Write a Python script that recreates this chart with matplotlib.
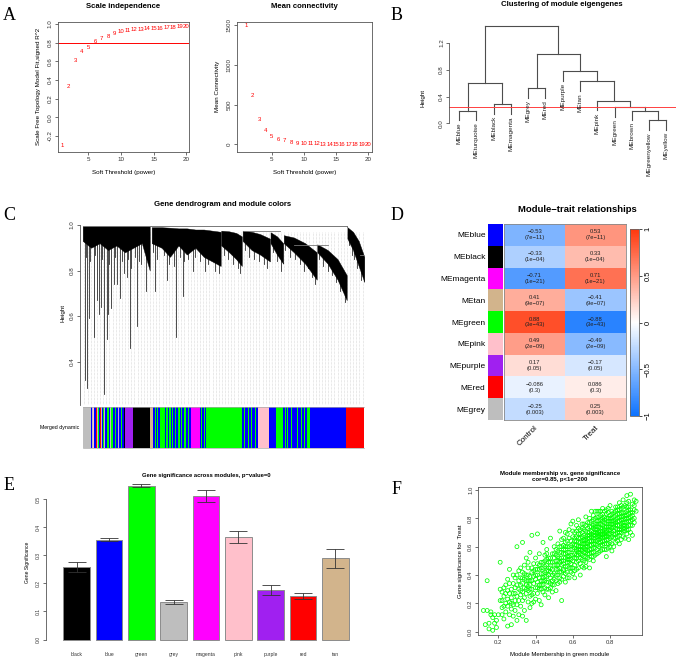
import numpy as np
import matplotlib
matplotlib.use("Agg")
import matplotlib.pyplot as plt
from matplotlib.colors import LinearSegmentedColormap

plt.rcParams['font.family'] = ['Liberation Sans', 'DejaVu Sans']

W, H = 676, 658

# ---------------- data ----------------
# A: soft threshold
powers = list(range(1, 21))
sft_r2 = [-0.30, 0.33, 0.61, 0.70, 0.75, 0.81, 0.84, 0.87, 0.90, 0.92,
          0.935, 0.94, 0.945, 0.95, 0.955, 0.955, 0.965, 0.965, 0.97, 0.975]
mean_k = [1487, 616, 306, 168, 100, 63, 42, 25, 13, 8,
          5, 4, 3, 2, 2, 1, 1, 1, 1, 1]

# B: eigengene clustering (R hclust style merge table)
me_leaves = ["MEblue", "MEturquoise", "MEblack", "MEmagenta", "MEgrey", "MEred",
             "MEpurple", "MEtan", "MEpink", "MEgreen", "MEbrown",
             "MEgreenyellow", "MEyellow"]
me_merge = [(-12, -13), (-11, 1), (-1, -2), (-10, 2), (-3, -4), (-9, 4),
            (-5, -6), (3, 5), (-8, 6), (-7, 9), (7, 10), (8, 11)]
me_height = [0.045, 0.19, 0.19, 0.239, 0.284, 0.339, 0.523, 0.60, 0.628,
             0.778, 1.037, 1.46]
merge_cut = 0.25

# C: gene dendrogram (leaf order fraction u, heights)
clu_u = [[0.000, 0.030, 0.060, 0.090, 0.120, 0.150, 0.180, 0.210, 0.238],
         [0.245, 0.280, 0.310, 0.340, 0.370, 0.400, 0.430, 0.460, 0.490],
         [0.492, 0.520, 0.545, 0.565],
         [0.568, 0.600, 0.630, 0.665],
         [0.667, 0.690, 0.712],
         [0.714, 0.750, 0.790, 0.831],
         [0.833, 0.870, 0.905, 0.9375],
         [0.940, 0.960, 0.980, 1.000]]
clu_top = [[0.995] * 9,
           [0.99, 0.99, 0.988, 0.985, 0.985, 0.98, 0.98, 0.975, 0.97],
           [0.975, 0.972, 0.965, 0.95],
           [0.975, 0.97, 0.96, 0.94],
           [0.968, 0.95, 0.92],
           [0.955, 0.945, 0.92, 0.88],
           [0.915, 0.89, 0.85, 0.78],
           [0.99, 0.97, 0.93, 0.86]]
clu_bot = [[0.93, 0.90, 0.92, 0.89, 0.91, 0.88, 0.90, 0.92, 0.80],
           [0.92, 0.90, 0.86, 0.91, 0.87, 0.90, 0.86, 0.84, 0.82],
           [0.91, 0.88, 0.85, 0.82],
           [0.93, 0.89, 0.87, 0.84],
           [0.92, 0.87, 0.83],
           [0.92, 0.88, 0.83, 0.76],
           [0.88, 0.83, 0.76, 0.67],
           [0.94, 0.89, 0.82, 0.75]]
drop_u = [0.007, 0.015, 0.022, 0.039, 0.051, 0.058, 0.066, 0.076, 0.085, 0.090,
          0.102, 0.110, 0.122, 0.131, 0.146, 0.157, 0.167, 0.173, 0.194, 0.206,
          0.224, 0.258, 0.300, 0.332, 0.356, 0.392, 0.435,
          0.012, 0.027, 0.045, 0.070, 0.095, 0.115, 0.138, 0.160, 0.185, 0.200,
          0.250, 0.265, 0.290, 0.305, 0.325, 0.345, 0.360, 0.375, 0.400, 0.415,
          0.445, 0.470, 0.485, 0.500, 0.515, 0.535, 0.550, 0.560, 0.575, 0.590,
          0.610, 0.625, 0.645, 0.655, 0.675, 0.690, 0.705, 0.720, 0.735, 0.755,
          0.770, 0.785, 0.800, 0.815, 0.825, 0.840, 0.855, 0.870, 0.885, 0.900,
          0.915, 0.930, 0.945, 0.955, 0.965, 0.975, 0.990]
drop_h = [0.32, 0.285, 0.59, 0.51, 0.67, 0.61, 0.64, 0.26, 0.50, 0.61,
          0.635, 0.74, 0.74, 0.68, 0.79, 0.77, 0.46, 0.81, 0.555, 0.83,
          0.71, 0.71, 0.76, 0.51, 0.69, 0.80, 0.80,
          0.86, 0.84, 0.87, 0.85, 0.83, 0.86, 0.84, 0.85, 0.86, 0.84,
          0.88, 0.85, 0.87, 0.83, 0.82, 0.86, 0.84, 0.85, 0.86, 0.84,
          0.83, 0.80, 0.79, 0.87, 0.85, 0.83, 0.81, 0.79, 0.89, 0.86,
          0.85, 0.84, 0.83, 0.81, 0.88, 0.84, 0.80, 0.89, 0.86, 0.85,
          0.83, 0.80, 0.81, 0.77, 0.74, 0.85, 0.82, 0.80, 0.78, 0.75,
          0.71, 0.66, 0.91, 0.87, 0.85, 0.81, 0.76]
strip_colors = ["grey",
                "blue", "grey", "pink", "blue", "red", "grey", "green", "blue", "red", "grey",
                "blue", "green", "grey", "blue", "green", "blue", "grey", "green", "blue",
                "green", "blue", "grey", "blue", "green", "blue",
                "black", "purple", "black", "tan",
                "blue", "green", "blue", "green", "blue", "green",
                "blue", "green", "blue", "green", "blue", "green", "blue", "green", "blue",
                "green", "blue", "green", "blue", "green", "blue", "green", "blue",
                "magenta",
                "blue", "green", "blue", "green", "blue", "green",
                "blue", "green", "blue", "green", "blue", "green", "blue", "green", "blue",
                "pink", "blue", "green",
                "blue", "green", "blue", "green", "blue", "green", "blue", "green", "blue",
                "green", "blue", "green", "blue", "green", "blue",
                "green", "blue", "red"]
strip_widths = [25,
                4, 3, 3, 4, 3, 3, 3, 5, 2, 3,
                4, 3, 3, 6, 4, 5, 3, 3, 8,
                3, 6, 3, 5, 3, 5,
                4, 24, 50, 9,
                6, 3, 4, 3, 6, 14,
                5, 4, 3, 6, 5, 3, 4, 5, 6,
                4, 5, 3, 6, 5, 4, 3, 7,
                27,
                4, 3, 5, 2, 4, 107,
                6, 3, 10, 3, 5, 4, 8, 3, 6,
                34, 19, 21,
                6, 3, 5, 2, 8, 3, 6, 2, 7,
                3, 9, 3, 6, 3, 7,
                9, 108, 54]

# D: module-trait
mt_modules = ["MEblue", "MEblack", "MEmagenta", "MEtan", "MEgreen", "MEpink",
              "MEpurple", "MEred", "MEgrey"]
mt_colors = ["#0000FF", "#000000", "#FF00FF", "#D2B48C", "#00FF00", "#FFC0CB",
             "#A020F0", "#FF0000", "#BEBEBE"]
traits = ["Control", "Treat"]
cor_control = [-0.53, -0.33, -0.71, 0.41, 0.88, 0.49, 0.17, -0.086, -0.25]
cor_treat = [0.53, 0.33, 0.71, -0.41, -0.88, -0.49, -0.17, 0.086, 0.25]
pvals = ["7e-11", "1e-04", "1e-21", "9e-07", "3e-43", "2e-09", "0.05", "0.3", "0.003"]

# E: gene significance across modules
gs_modules = ["black", "blue", "green", "grey", "magenta", "pink", "purple", "red", "tan"]
gs_bar_colors = ["#000000", "#0000FF", "#00FF00", "#BEBEBE", "#FF00FF", "#FFC0CB",
                 "#A020F0", "#FF0000", "#D2B48C"]
gs_mean = [0.258, 0.356, 0.548, 0.133, 0.511, 0.366, 0.177, 0.154, 0.290]
gs_se = [0.018, 0.006, 0.004, 0.007, 0.022, 0.022, 0.017, 0.010, 0.034]

# F: module membership vs gene significance (green module)
gene_points = [
    (0.12, 0.15), (0.13, 0.05), (0.14, 0.36), (0.14, 0.15), (0.15, 0.06), (0.15, 0.02),
    (0.16, 0.12), (0.17, 0.10), (0.17, 0.01), (0.18, 0.06), (0.18, 0.12), (0.19, 0.08),
    (0.19, 0.03), (0.20, 0.12), (0.16, 0.14),
    (0.21, 0.49), (0.21, 0.22), (0.22, 0.12), (0.22, 0.28), (0.22, 0.17), (0.23, 0.25),
    (0.23, 0.09), (0.23, 0.31), (0.24, 0.20), (0.24, 0.14), (0.24, 0.33), (0.25, 0.04),
    (0.25, 0.23), (0.25, 0.18), (0.25, 0.37), (0.26, 0.44), (0.26, 0.27), (0.26, 0.12),
    (0.26, 0.21), (0.27, 0.05), (0.27, 0.30), (0.27, 0.16), (0.27, 0.24), (0.28, 0.34),
    (0.28, 0.19), (0.28, 0.11), (0.28, 0.27), (0.29, 0.22), (0.29, 0.38), (0.29, 0.15),
    (0.29, 0.31), (0.30, 0.60), (0.30, 0.25), (0.30, 0.08), (0.30, 0.33), (0.30, 0.19),
    (0.24, 0.27), (0.26, 0.34), (0.28, 0.40), (0.23, 0.18), (0.27, 0.20), (0.29, 0.27),
    (0.21, 0.30), (0.25, 0.29), (0.22, 0.22),
    (0.31, 0.36), (0.31, 0.22), (0.31, 0.43), (0.31, 0.12), (0.32, 0.29), (0.32, 0.38),
    (0.32, 0.18), (0.32, 0.26), (0.33, 0.42), (0.33, 0.11), (0.33, 0.34), (0.33, 0.63),
    (0.33, 0.22), (0.34, 0.31), (0.34, 0.47), (0.34, 0.15), (0.34, 0.37), (0.35, 0.27),
    (0.35, 0.08), (0.35, 0.40), (0.35, 0.52), (0.35, 0.33), (0.36, 0.21), (0.36, 0.36),
    (0.36, 0.45), (0.36, 0.29), (0.37, 0.39), (0.37, 0.17), (0.37, 0.33), (0.37, 0.56),
    (0.37, 0.25), (0.38, 0.42), (0.38, 0.30), (0.38, 0.68), (0.38, 0.36), (0.38, 0.20),
    (0.39, 0.48), (0.39, 0.27), (0.39, 0.34), (0.39, 0.39), (0.40, 0.31), (0.40, 0.44),
    (0.40, 0.23), (0.40, 0.52), (0.40, 0.37), (0.32, 0.33), (0.34, 0.24), (0.36, 0.32),
    (0.38, 0.26), (0.33, 0.28), (0.35, 0.36), (0.37, 0.30), (0.39, 0.21), (0.31, 0.30),
    (0.36, 0.40),
    (0.41, 0.35), (0.41, 0.48), (0.41, 0.27), (0.41, 0.40), (0.41, 0.69), (0.42, 0.33),
    (0.42, 0.44), (0.42, 0.22), (0.42, 0.38), (0.42, 0.55), (0.43, 0.30), (0.43, 0.41),
    (0.43, 0.49), (0.43, 0.36), (0.43, 0.19), (0.44, 0.45), (0.44, 0.28), (0.44, 0.38),
    (0.44, 0.63), (0.44, 0.33), (0.45, 0.42), (0.45, 0.50), (0.45, 0.26), (0.45, 0.36),
    (0.45, 0.31), (0.46, 0.47), (0.46, 0.39), (0.46, 0.58), (0.46, 0.30), (0.46, 0.43),
    (0.47, 0.35), (0.47, 0.52), (0.47, 0.40), (0.47, 0.24), (0.47, 0.45), (0.48, 0.38),
    (0.48, 0.66), (0.48, 0.49), (0.48, 0.31), (0.48, 0.42), (0.49, 0.55), (0.49, 0.36),
    (0.49, 0.44), (0.49, 0.28), (0.49, 0.40), (0.50, 0.47), (0.50, 0.33), (0.50, 0.60),
    (0.50, 0.41), (0.50, 0.37), (0.42, 0.30), (0.44, 0.41), (0.46, 0.35), (0.48, 0.45),
    (0.43, 0.45), (0.45, 0.46), (0.47, 0.30), (0.49, 0.49), (0.41, 0.31), (0.44, 0.36),
    (0.46, 0.51), (0.48, 0.34), (0.50, 0.52), (0.45, 0.39), (0.47, 0.43),
    (0.51, 0.44), (0.51, 0.58), (0.51, 0.36), (0.51, 0.50), (0.51, 0.29), (0.52, 0.47),
    (0.52, 0.62), (0.52, 0.40), (0.52, 0.53), (0.52, 0.34), (0.53, 0.45), (0.53, 0.56),
    (0.53, 0.38), (0.53, 0.71), (0.53, 0.49), (0.54, 0.42), (0.54, 0.52), (0.54, 0.60),
    (0.54, 0.22), (0.54, 0.47), (0.55, 0.55), (0.55, 0.39), (0.55, 0.50), (0.55, 0.66),
    (0.55, 0.44), (0.56, 0.58), (0.56, 0.46), (0.56, 0.35), (0.56, 0.52), (0.56, 0.63),
    (0.57, 0.49), (0.57, 0.56), (0.57, 0.42), (0.57, 0.69), (0.57, 0.53), (0.58, 0.45),
    (0.58, 0.60), (0.58, 0.51), (0.58, 0.38), (0.58, 0.56), (0.59, 0.64), (0.59, 0.48),
    (0.59, 0.54), (0.59, 0.42), (0.59, 0.76), (0.60, 0.58), (0.60, 0.50), (0.60, 0.62),
    (0.60, 0.45), (0.60, 0.54), (0.52, 0.57), (0.54, 0.37), (0.56, 0.41), (0.58, 0.66),
    (0.53, 0.52), (0.55, 0.48), (0.57, 0.60), (0.59, 0.58), (0.51, 0.54), (0.53, 0.42),
    (0.55, 0.61), (0.57, 0.46), (0.59, 0.51), (0.52, 0.50), (0.54, 0.56), (0.56, 0.55),
    (0.58, 0.49), (0.60, 0.67), (0.51, 0.40), (0.55, 0.43), (0.57, 0.38), (0.60, 0.41),
    (0.54, 0.65), (0.56, 0.70), (0.58, 0.72), (0.60, 0.78),
    (0.61, 0.55), (0.61, 0.64), (0.61, 0.47), (0.61, 0.59), (0.61, 0.70), (0.62, 0.52),
    (0.62, 0.61), (0.62, 0.44), (0.62, 0.57), (0.62, 0.67), (0.63, 0.63), (0.63, 0.50),
    (0.63, 0.58), (0.63, 0.73), (0.63, 0.54), (0.64, 0.60), (0.64, 0.48), (0.64, 0.66),
    (0.64, 0.55), (0.64, 0.40), (0.65, 0.62), (0.65, 0.57), (0.65, 0.70), (0.65, 0.51),
    (0.65, 0.64), (0.66, 0.59), (0.66, 0.68), (0.66, 0.53), (0.66, 0.76), (0.66, 0.62),
    (0.67, 0.56), (0.67, 0.65), (0.67, 0.49), (0.67, 0.60), (0.67, 0.81), (0.68, 0.63),
    (0.68, 0.57), (0.68, 0.70), (0.68, 0.52), (0.68, 0.66), (0.69, 0.61), (0.69, 0.74),
    (0.69, 0.55), (0.69, 0.68), (0.69, 0.45), (0.70, 0.64), (0.70, 0.58), (0.70, 0.71),
    (0.70, 0.53), (0.70, 0.85), (0.61, 0.52), (0.62, 0.49), (0.63, 0.66), (0.64, 0.63),
    (0.65, 0.54), (0.66, 0.56), (0.67, 0.71), (0.68, 0.60), (0.69, 0.58), (0.70, 0.67),
    (0.61, 0.61), (0.62, 0.71), (0.63, 0.45), (0.64, 0.58), (0.65, 0.67), (0.66, 0.50),
    (0.67, 0.62), (0.68, 0.77), (0.69, 0.64), (0.70, 0.61), (0.62, 0.64), (0.64, 0.52),
    (0.66, 0.65), (0.68, 0.55), (0.70, 0.74), (0.63, 0.60), (0.65, 0.60), (0.67, 0.67),
    (0.69, 0.51), (0.61, 0.38), (0.63, 0.79), (0.65, 0.46), (0.67, 0.53), (0.69, 0.70),
    (0.66, 0.72), (0.64, 0.69), (0.62, 0.58), (0.68, 0.73), (0.70, 0.56), (0.66, 0.45),
    (0.71, 0.62), (0.71, 0.70), (0.71, 0.56), (0.71, 0.75), (0.71, 0.66), (0.72, 0.64),
    (0.72, 0.72), (0.72, 0.59), (0.72, 0.68), (0.72, 0.80), (0.73, 0.67), (0.73, 0.61),
    (0.73, 0.74), (0.73, 0.55), (0.73, 0.70), (0.74, 0.65), (0.74, 0.78), (0.74, 0.60),
    (0.74, 0.71), (0.74, 0.68), (0.75, 0.73), (0.75, 0.63), (0.75, 0.69), (0.75, 0.57),
    (0.75, 0.82), (0.76, 0.66), (0.76, 0.75), (0.76, 0.61), (0.76, 0.71), (0.76, 0.87),
    (0.77, 0.69), (0.77, 0.64), (0.77, 0.77), (0.77, 0.58), (0.77, 0.72), (0.78, 0.67),
    (0.78, 0.74), (0.78, 0.62), (0.78, 0.80), (0.78, 0.70), (0.79, 0.72), (0.79, 0.65),
    (0.79, 0.76), (0.79, 0.59), (0.79, 0.84), (0.80, 0.69), (0.80, 0.74), (0.80, 0.63),
    (0.80, 0.78), (0.80, 0.89), (0.71, 0.59), (0.72, 0.54), (0.73, 0.78), (0.74, 0.63),
    (0.75, 0.66), (0.76, 0.69), (0.77, 0.81), (0.78, 0.65), (0.79, 0.69), (0.80, 0.72),
    (0.71, 0.79), (0.72, 0.66), (0.73, 0.64), (0.74, 0.74), (0.75, 0.76), (0.76, 0.64),
    (0.77, 0.67), (0.78, 0.76), (0.79, 0.80), (0.80, 0.66), (0.71, 0.68), (0.72, 0.76),
    (0.73, 0.69), (0.74, 0.56), (0.75, 0.71), (0.76, 0.78), (0.77, 0.74), (0.78, 0.58),
    (0.79, 0.62), (0.80, 0.82), (0.72, 0.62), (0.74, 0.81), (0.76, 0.73), (0.78, 0.71),
    (0.80, 0.60), (0.73, 0.72), (0.75, 0.61), (0.77, 0.62), (0.79, 0.74), (0.71, 0.50),
    (0.73, 0.85), (0.75, 0.79), (0.77, 0.70), (0.79, 0.67), (0.74, 0.67), (0.76, 0.83),
    (0.78, 0.86), (0.80, 0.76), (0.72, 0.70), (0.76, 0.58), (0.78, 0.53), (0.74, 0.85),
    (0.71, 0.73), (0.73, 0.58),
    (0.81, 0.73), (0.81, 0.67), (0.81, 0.80), (0.81, 0.62), (0.81, 0.76), (0.82, 0.71),
    (0.82, 0.84), (0.82, 0.66), (0.82, 0.78), (0.82, 0.74), (0.83, 0.77), (0.83, 0.69),
    (0.83, 0.82), (0.83, 0.63), (0.83, 0.88), (0.84, 0.75), (0.84, 0.70), (0.84, 0.80),
    (0.84, 0.64), (0.84, 0.86), (0.85, 0.78), (0.85, 0.72), (0.85, 0.83), (0.85, 0.68),
    (0.85, 0.91), (0.86, 0.76), (0.86, 0.81), (0.86, 0.70), (0.86, 0.87), (0.86, 0.74),
    (0.87, 0.79), (0.87, 0.73), (0.87, 0.84), (0.87, 0.67), (0.87, 0.93), (0.88, 0.77),
    (0.88, 0.82), (0.88, 0.71), (0.88, 0.89), (0.88, 0.75), (0.89, 0.80), (0.89, 0.85),
    (0.89, 0.74), (0.89, 0.96), (0.89, 0.69), (0.90, 0.78), (0.90, 0.83), (0.90, 0.72),
    (0.90, 0.88), (0.90, 0.65), (0.91, 0.81), (0.91, 0.75), (0.91, 0.86), (0.91, 0.97),
    (0.92, 0.79), (0.92, 0.84), (0.92, 0.68), (0.92, 0.90), (0.93, 0.86), (0.93, 0.93),
    (0.93, 0.77), (0.94, 0.85), (0.81, 0.70), (0.82, 0.60), (0.83, 0.73), (0.84, 0.78),
    (0.85, 0.75), (0.86, 0.65), (0.87, 0.77), (0.88, 0.80), (0.89, 0.77), (0.90, 0.75),
    (0.81, 0.85), (0.83, 0.79), (0.85, 0.62), (0.87, 0.71), (0.89, 0.91), (0.91, 0.70),
    (0.82, 0.69), (0.84, 0.83), (0.86, 0.79), (0.88, 0.66), (0.90, 0.92), (0.81, 0.57),
    (0.83, 0.66), (0.85, 0.81), (0.87, 0.88), (0.89, 0.82), (0.84, 0.72), (0.86, 0.84),
    (0.56, 0.60), (0.57, 0.64), (0.58, 0.53), (0.59, 0.61), (0.60, 0.71), (0.61, 0.66),
    (0.62, 0.54), (0.62, 0.75), (0.63, 0.69), (0.64, 0.72), (0.65, 0.58), (0.65, 0.76),
    (0.66, 0.64), (0.67, 0.58), (0.67, 0.75), (0.68, 0.68), (0.68, 0.62), (0.69, 0.77),
    (0.69, 0.66), (0.70, 0.69), (0.70, 0.78), (0.71, 0.64), (0.71, 0.82), (0.72, 0.74),
    (0.72, 0.85), (0.73, 0.76), (0.73, 0.81), (0.74, 0.70), (0.74, 0.76), (0.75, 0.67),
    (0.75, 0.85), (0.76, 0.80), (0.76, 0.68), (0.77, 0.79), (0.77, 0.85), (0.78, 0.68),
    (0.78, 0.83), (0.79, 0.78), (0.79, 0.87), (0.80, 0.71), (0.80, 0.80), (0.81, 0.78),
    (0.81, 0.83), (0.82, 0.76), (0.82, 0.81), (0.83, 0.85), (0.83, 0.75), (0.84, 0.88),
    (0.84, 0.67), (0.85, 0.86), (0.85, 0.70), (0.86, 0.72), (0.86, 0.89), (0.87, 0.81),
    (0.87, 0.75), (0.88, 0.84), (0.88, 0.73), (0.89, 0.88), (0.89, 0.72), (0.90, 0.80),
    (0.90, 0.86), (0.91, 0.78), (0.91, 0.84), (0.92, 0.82), (0.92, 0.75), (0.93, 0.80),
    (0.93, 0.89), (0.94, 0.92), (0.48, 0.52), (0.50, 0.55), (0.52, 0.44), (0.53, 0.60),
    (0.54, 0.50), (0.46, 0.55), (0.44, 0.49), (0.42, 0.47), (0.40, 0.40), (0.38, 0.45),
    (0.36, 0.49), (0.34, 0.41), (0.32, 0.45), (0.30, 0.40), (0.33, 0.38), (0.35, 0.30),
    (0.37, 0.36), (0.39, 0.43), (0.41, 0.44), (0.43, 0.33), (0.45, 0.54), (0.47, 0.49),
    (0.49, 0.33), (0.51, 0.47), (0.53, 0.35), (0.55, 0.58), (0.57, 0.51), (0.59, 0.45),
    (0.61, 0.43), (0.63, 0.56), (0.65, 0.73), (0.67, 0.46), (0.69, 0.80), (0.71, 0.53),
]

# ---------------- helpers ----------------
R_COLORS = {"grey": "#BEBEBE", "blue": "#0000FF", "green": "#00FF00", "red": "#FF0000",
            "pink": "#FFC0CB", "purple": "#A020F0", "black": "#000000",
            "tan": "#D2B48C", "magenta": "#FF00FF"}
EDGE = "#555555"

fig = plt.figure(figsize=(W / 100, H / 100), dpi=100)


def px_axes(x0, y0, x1, y1):
    return fig.add_axes([x0 / W, 1 - y1 / H, (x1 - x0) / W, (y1 - y0) / H])


def r_style(ax, fs=4.5, box=True):
    for s in ax.spines.values():
        s.set_color(EDGE)
        s.set_linewidth(0.6)
        s.set_visible(box)
    ax.tick_params(direction="out", length=2.2, width=0.5, labelsize=fs,
                   colors="#333333", pad=1.5)
    ax.tick_params(axis="y", labelrotation=90)
    plt.setp(ax.get_yticklabels(), va="center")


def ftext(x, y, s, **kw):
    fig.text(x / W, 1 - y / H, s, **kw)


for letter, (lx, ly) in zip("ABCDEF", [(9, 16), (397, 16), (9, 215), (397, 215),
                                        (9, 486), (397, 490)]):
    ftext(lx, ly, letter, family="Liberation Serif", fontsize=13,
          ha="center", va="center")

# ---------------- A ----------------
ax = px_axes(57.7, 21.7, 189, 151.7)
for p, r in zip(powers, sft_r2):
    ax.text(p, r, str(p), color="red", fontsize=4.3, ha="center", va="center")
ax.axhline(0.8, color="red", lw=0.7)
ax.set_xlim(0.3, 20.4)
ax.set_ylim(-0.37, 1.025)
ax.set_xticks([5, 10, 15, 20])
ax.set_yticks(np.arange(-0.2, 1.01, 0.2))
ax.set_yticklabels(["-0.2", "0.0", "0.2", "0.4", "0.6", "0.8", "1.0"])
r_style(ax)
ax.set_title("Scale independence", fontsize=5.6, fontweight="bold", pad=10)
ax.set_xlabel("Soft Threshold (power)", fontsize=4.5, labelpad=6)
ax.set_ylabel("Scale Free Topology Model Fit,signed R^2", fontsize=4.5, labelpad=5)

ax = px_axes(236.7, 21.7, 371.7, 151.7)
for p, k in zip(powers, mean_k):
    ax.text(p, k, str(p), color="red", fontsize=4.3, ha="center", va="center")
ax.set_xlim(-0.5, 20.6)
ax.set_ylim(-93, 1541)
ax.set_xticks([5, 10, 15, 20])
ax.set_yticks([0, 500, 1000, 1500])
r_style(ax)
ax.set_title("Mean connectivity", fontsize=5.6, fontweight="bold", pad=10)
ax.set_xlabel("Soft Threshold (power)", fontsize=4.5, labelpad=6)
ax.set_ylabel("Mean Connectivity", fontsize=4.5, labelpad=5)

# ---------------- B ----------------
ax = px_axes(449.3, 22, 676, 135)
hang = 0.1 * max(me_height)
node_x, node_h = {}, {}
line_kw = dict(color="#4d4d4d", lw=0.8)
for i, ((a, b), h) in enumerate(zip(me_merge, me_height), start=1):
    xs = []
    for c in (a, b):
        if c < 0:
            cx, ch = -c, h - hang
            ax.text(cx, ch - 0.03, me_leaves[-c - 1], rotation=90, ha="center",
                    va="top", fontsize=4.6, color="#222222")
        else:
            cx, ch = node_x[c], node_h[c]
        ax.plot([cx, cx], [ch, h], **line_kw)
        xs.append(cx)
    ax.plot(xs, [h, h], **line_kw)
    node_x[i], node_h[i] = np.mean(xs), h
ax.axhline(merge_cut, color="#FF4040", lw=0.7)
ax.set_xlim(0.44, 13.55)
ax.set_ylim(-0.175, 1.514)
r_style(ax, box=False)
ax.spines["left"].set_visible(True)
ax.spines["left"].set_bounds(0, 1.2)
ax.set_xticks([])
ax.set_yticks([0, 0.4, 0.8, 1.2])
ax.set_yticklabels(["0.0", "0.4", "0.8", "1.2"])
ax.patch.set_alpha(0)
ftext(423, 98, "Height", rotation=90, fontsize=4.5, ha="center", va="center")
ftext(562, 5, "Clustering of module eigengenes", fontsize=5.6, fontweight="bold",
      ha="center", va="center")

# ---------------- C ----------------
ax = px_axes(80, 222, 364.3, 405)
for g in np.linspace(0.006, 0.994, 90):
    ax.plot([g, g], [0.21, 0.97], color="#BBBBBB", lw=0.4, ls=(0, (1, 1.5)), zorder=1)
all_u = np.concatenate(clu_u)
all_bot = np.concatenate(clu_bot)
for u, h in zip(drop_u, drop_h):
    top = np.interp(u, all_u, all_bot) + 0.02
    ax.plot([u, u], [h, top], color="#1a1a1a", lw=0.55, zorder=2)
for u, t, b in zip(clu_u, clu_top, clu_bot):
    ax.fill_between(u, b, t, color="black", lw=0.3, zorder=3)
ax.plot([0, 0.94], [0.996, 0.996], color="#777777", lw=0.7, zorder=4)
ax.plot([0.94, 0.94], [0.99, 0.996], color="#777777", lw=0.7, zorder=4)
ax.plot([0.57, 0.70], [0.975, 0.975], color="#777777", lw=0.6, zorder=4)
ax.plot([0.75, 0.87], [0.912, 0.912], color="#777777", lw=0.6, zorder=4)
ax.plot([0.985, 1.0, 1.0], [0.87, 0.87, 0.85], color="#777777", lw=0.6, zorder=4)
ax.set_xlim(-0.0096, 1.0)
ax.set_ylim(0.21, 1.013)
r_style(ax, box=False)
ax.spines["left"].set_visible(True)
ax.spines["left"].set_bounds(0.21, 1.0)
ax.set_xticks([])
ax.set_yticks([0.4, 0.6, 0.8, 1.0])
ax.set_yticklabels(["0.4", "0.6", "0.8", "1.0"])
ax.set_ylabel("Height", fontsize=4.5, labelpad=3)
ftext(223, 205, "Gene dendrogram and module colors", fontsize=5.6,
      fontweight="bold", ha="center", va="center")

ax = px_axes(82.7, 406.7, 364.3, 448.3)
lefts = np.concatenate([[0], np.cumsum(strip_widths)[:-1]])
ax.bar(lefts, 1, width=strip_widths, align="edge",
       color=[R_COLORS[c] for c in strip_colors], lw=0)
ax.set_xlim(0, sum(strip_widths))
ax.set_ylim(0, 1)
ax.set_xticks([])
ax.set_yticks([])
for s in ax.spines.values():
    s.set_color("#AAAAAA")
    s.set_linewidth(0.5)
ax.spines["left"].set_visible(False)
ax.spines["right"].set_visible(False)
ftext(79, 428, "Merged dynamic", fontsize=3.8, ha="right", va="center")

# ---------------- D ----------------
bwr = LinearSegmentedColormap.from_list(
    "bwr_wgcna", [(0.05, 0.45, 1.0), (1, 1, 1), (1.0, 0.22, 0.05)])
cors = np.array([cor_control, cor_treat]).T
ax = px_axes(504.3, 224, 625.7, 420)
im = ax.imshow(cors, cmap=bwr, vmin=-1, vmax=1, aspect="auto")
for i in range(len(mt_modules)):
    for j, col in enumerate([cor_control, cor_treat]):
        lab = f"{col[i]:g}\n({pvals[i]})".replace("-", "\u2212")
        ax.text(j, i, lab, ha="center", va="center", fontsize=4.2,
                color="#222222", linespacing=1.2)
ax.set_xticks(range(len(traits)))
ax.set_xticklabels(traits, rotation=45, ha="right", rotation_mode="anchor",
                   fontsize=5.8)
ax.set_yticks([])
ax.tick_params(length=0, pad=3)
for s in ax.spines.values():
    s.set_color("#888888")
    s.set_linewidth(0.6)

ax = px_axes(488.3, 224, 502.7, 420)
ax.bar(0, 1, width=1, bottom=np.arange(len(mt_modules)), align="edge",
       color=mt_colors, lw=0)
ax.set_ylim(len(mt_modules), 0)
ax.set_xlim(0, 1)
ax.set_xticks([])
ax.set_yticks(np.arange(len(mt_modules)) + 0.5)
ax.set_yticklabels(mt_modules, fontsize=6)
ax.tick_params(length=0, pad=2)
for s in ax.spines.values():
    s.set_visible(False)

cax = px_axes(630, 229.3, 639, 416)
cb = fig.colorbar(im, cax=cax, ticks=[-1, -0.5, 0, 0.5, 1])
cb.ax.set_yticklabels(["\u22121", "\u22120.5", "0", "0.5", "1"])
cb.ax.tick_params(labelsize=5.5, length=2.5, width=0.5, labelrotation=90, pad=1.5)
plt.setp(cb.ax.get_yticklabels(), va="center")
cb.outline.set_edgecolor("#666666")
cb.outline.set_linewidth(0.6)
ftext(577, 209, "Module\u2212trait relationships", fontsize=6.8,
      fontweight="bold", ha="center", va="center")

# ---------------- E ----------------
ax = px_axes(46, 478, 366, 646)
xpos = 0.7 + 1.2 * np.arange(len(gs_modules))
ax.bar(xpos, gs_mean, width=1.0, color=gs_bar_colors, edgecolor="#8c8c8c", lw=0.7)
ax.errorbar(xpos, gs_mean, yerr=gs_se, fmt="none", ecolor="#333333",
            elinewidth=0.6, capsize=6.5, capthick=0.6)
ax.set_xlim(-0.44, 11.44)
ax.set_ylim(-0.023, 0.575)
r_style(ax, fs=3.6, box=False)
ax.spines["left"].set_visible(True)
ax.spines["left"].set_bounds(0, 0.5)
ax.set_yticks(np.arange(0, 0.51, 0.1))
ax.set_yticklabels(["0.0", "0.1", "0.2", "0.3", "0.4", "0.5"])
ax.set_xticks(xpos)
ax.set_xticklabels(gs_modules, fontsize=3.6)
ax.tick_params(axis="x", length=0, pad=4)
ax.set_ylabel("Gene Significance", fontsize=3.6, labelpad=4)
ax.patch.set_alpha(0)
ftext(206, 475, "Gene significance across modules, p\u2212value=0", fontsize=4.2,
      fontweight="bold", ha="center", va="center")

# ---------------- F ----------------
mm, gsig = np.array(gene_points).T
ax = px_axes(478.3, 486.7, 641.7, 635)
ax.scatter(mm, gsig, s=8, facecolors="none", edgecolors="#00FF00", linewidths=0.55)
ax.set_xlim(0.0925, 0.97)
ax.set_ylim(-0.023, 1.023)
ax.set_xticks([0.2, 0.4, 0.6, 0.8])
ax.set_yticks(np.arange(0, 1.01, 0.2))
ax.set_yticklabels(["0.0", "0.2", "0.4", "0.6", "0.8", "1.0"])
r_style(ax, fs=4.3)
ax.set_title("Module membership vs. gene significance\ncor=0.85, p<1e\u2212200",
             fontsize=4.3, fontweight="bold", pad=4, linespacing=1.3)
ax.set_xlabel("Module Membership in green module", fontsize=4.3, labelpad=5)
ax.set_ylabel("Gene significance for  Treat", fontsize=4.3, labelpad=4)

fig.savefig("out.png", dpi=100)
